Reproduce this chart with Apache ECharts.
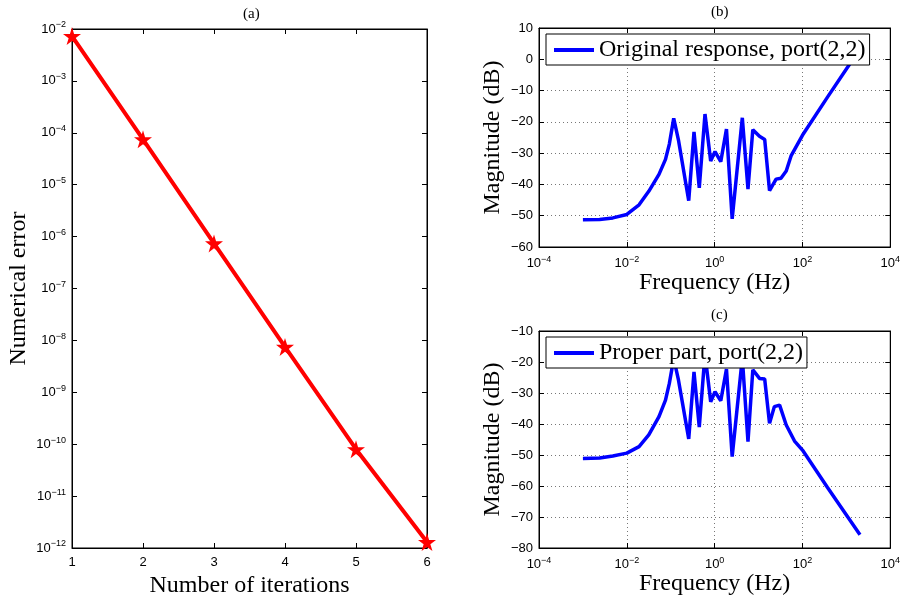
<!DOCTYPE html>
<html>
<head>
<meta charset="utf-8">
<script src="https://cdn.jsdelivr.net/npm/echarts@6/dist/echarts.min.js"></script>
<style>
    html, body { margin: 0; padding: 0; background: #fff; }
    .chart { width: 903px; height: 603px; }
</style>
</head>
<body>
<div class="chart"></div>
<script>
// (a) error per iteration
let iterations = [1, 2, 3, 4, 5, 6];
let errors = [7.3e-3, 7.5e-5, 7.4e-7, 7.5e-9, 8e-11, 1.3e-12];

// (b) original response
let freqB = [0.001, 0.0024, 0.0048, 0.01, 0.019, 0.0316, 0.054, 0.076, 0.093, 0.117, 0.15, 0.257, 0.339, 0.447, 0.603, 0.813, 1.02, 1.38, 1.86, 2.51, 4.27, 5.75, 7.41, 10.5, 13.8, 17.8, 25.1, 32.4, 42.7, 55, 100, 372, 1259];
let magB = [-51.3, -51.2, -50.7, -49.6, -46.5, -42.2, -36.8, -32, -27.1, -18.9, -25.8, -45.2, -23.2, -41.1, -17.5, -32.5, -29.5, -32.7, -22.3, -51, -18.7, -41.5, -22.5, -24.6, -25.6, -42, -38.3, -38, -35.7, -30.9, -24.3, -12.1, -1];

// (c) proper part
let freqC = [0.001, 0.0024, 0.0048, 0.01, 0.019, 0.0316, 0.054, 0.076, 0.093, 0.117, 0.15, 0.257, 0.339, 0.447, 0.603, 0.813, 1.02, 1.38, 1.86, 2.51, 4.27, 5.75, 7.41, 10.5, 13.8, 17.8, 22.9, 30.2, 42.7, 66, 100, 372, 2042];
let magC = [-51.1, -51, -50.3, -49.4, -47.3, -43.5, -37.6, -32.3, -26.9, -18.9, -25.8, -44.8, -23.2, -41, -17.5, -32.8, -29.6, -32.5, -22.3, -50.5, -18.7, -45.7, -22.5, -25.3, -25.5, -39.8, -34.4, -33.9, -40.3, -45.5, -48.4, -60.5, -75.7];

let nameB = 'Original response, port(2,2)';
let nameC = 'Proper part, port(2,2)';

let serif = 'Liberation Serif';
let sans = 'Liberation Sans';
let star = 'path://M50,0 L61,35 L98,35 L68,57 L79,91 L50,70 L21,91 L32,57 L2,35 L39,35 Z';

function pairs(xs, ys) {
    let out = [];
    for (let i = 0; i < xs.length; i++) out.push([xs[i], ys[i]]);
    return out;
}

function powLabel(v) {
    let e = Math.round(Math.log10(v));
    return '10{s|' + (e < 0 ? '\u2212' + (-e) : e) + '}';
}

function dbLabel(v) {
    return v < 0 ? '\u2212' + (-v) : '' + v;
}

let tickLabel = { color: '#000', fontFamily: sans, fontSize: 13, rich: { s: { fontSize: 9, fontFamily: sans, color: '#000', padding: [0, 0, 8, 0] } } };
let blackLine = { onZero: false, lineStyle: { color: '#000', width: 1 } };
let inTick = { inside: true, length: 5, lineStyle: { color: '#000' } };
let dotted = { show: true, lineStyle: { color: '#777', type: [1, 3], width: 1 } };

// primary + mirror axis, ticks pointing inward
function xAxes(grid, base, extra) {
    let main = Object.assign({ gridIndex: grid, position: 'bottom', axisLine: blackLine, axisTick: inTick, axisLabel: Object.assign({ margin: 8 }, tickLabel), splitLine: { show: false } }, base, extra);
    let mirror = Object.assign({ gridIndex: grid, position: 'top', axisLine: blackLine, axisTick: inTick, axisLabel: { show: false }, splitLine: { show: false } }, base);
    return [main, mirror];
}

function yAxes(grid, base, extra) {
    let main = Object.assign({ gridIndex: grid, position: 'left', axisLine: blackLine, axisTick: inTick, axisLabel: Object.assign({ margin: 6 }, tickLabel), splitLine: { show: false } }, base, extra);
    let mirror = Object.assign({ gridIndex: grid, position: 'right', axisLine: blackLine, axisTick: inTick, axisLabel: { show: false }, splitLine: { show: false } }, base);
    return [main, mirror];
}

let freqBase = { type: 'log', logBase: 10, min: 1e-4, max: 1e4, interval: 2 };
let nameX = { name: 'Frequency (Hz)', nameLocation: 'middle', nameGap: 21, nameTextStyle: { fontFamily: serif, fontSize: 24, color: '#000' }, splitLine: dotted, axisLabel: Object.assign({ margin: 8, formatter: powLabel }, tickLabel) };
let nameY = { name: 'Magnitude (dB)', nameLocation: 'middle', nameGap: 34, nameTextStyle: { fontFamily: serif, fontSize: 24, color: '#000' }, splitLine: dotted, axisLabel: Object.assign({ margin: 6, formatter: dbLabel }, tickLabel) };

let xs = [].concat(
    xAxes(0, { type: 'value', min: 1, max: 6, interval: 1 }, { name: 'Number of iterations', nameLocation: 'middle', nameGap: 21, nameTextStyle: { fontFamily: serif, fontSize: 24, color: '#000' } }),
    xAxes(1, freqBase, nameX),
    xAxes(2, freqBase, nameX)
);
let ys = [].concat(
    yAxes(0, { type: 'log', logBase: 10, min: 1e-12, max: 1e-2, interval: 1 }, { name: 'Numerical error', nameLocation: 'middle', nameGap: 41, nameTextStyle: { fontFamily: serif, fontSize: 24, color: '#000' }, axisLabel: Object.assign({ margin: 6, formatter: powLabel }, tickLabel) }),
    yAxes(1, { type: 'value', min: -60, max: 10, interval: 10 }, nameY),
    yAxes(2, { type: 'value', min: -80, max: -10, interval: 10 }, nameY)
);

let legendBase = { orient: 'horizontal', icon: 'rect', itemWidth: 40, itemHeight: 4, itemGap: 4, backgroundColor: '#fff', borderColor: '#000', borderWidth: 1, borderRadius: 0, padding: [4, 4, 3, 8], textStyle: { fontFamily: serif, fontSize: 24, color: '#000' } };

let option = {
    animation: false,
    backgroundColor: '#fff',
    title: [
        { text: '(a)', left: 238, top: 2, textStyle: { fontFamily: serif, fontSize: 15, fontWeight: 'normal', color: '#000' } },
        { text: '(b)', left: 706, top: 0, textStyle: { fontFamily: serif, fontSize: 15, fontWeight: 'normal', color: '#000' } },
        { text: '(c)', left: 706, top: 303, textStyle: { fontFamily: serif, fontSize: 15, fontWeight: 'normal', color: '#000' } }
    ],
    grid: [
        { left: 72, top: 29, width: 355, height: 519, show: true, borderColor: '#000', borderWidth: 1 },
        { left: 539, top: 28, width: 355, height: 219, show: true, borderColor: '#000', borderWidth: 1 },
        { left: 539, top: 331, width: 355, height: 217, show: true, borderColor: '#000', borderWidth: 1 }
    ],
    legend: [
        Object.assign({ data: [nameB], left: 546, top: 34 }, legendBase),
        Object.assign({ data: [nameC], left: 546, top: 337 }, legendBase)
    ],
    xAxis: xs,
    yAxis: ys,
    series: [
        {
            type: 'line', xAxisIndex: 0, yAxisIndex: 0,
            data: pairs(iterations, errors),
            symbol: star, symbolSize: 18,
            itemStyle: { color: '#ff0000' },
            lineStyle: { color: '#ff0000', width: 4 }
        },
        {
            name: nameB, type: 'line', xAxisIndex: 2, yAxisIndex: 2,
            data: pairs(freqB, magB), showSymbol: false, symbol: 'none',
            itemStyle: { color: '#0000ff' },
            lineStyle: { color: '#0000ff', width: 3.5 }
        },
        {
            name: nameC, type: 'line', xAxisIndex: 4, yAxisIndex: 4,
            data: pairs(freqC, magC), showSymbol: false, symbol: 'none',
            itemStyle: { color: '#0000ff' },
            lineStyle: { color: '#0000ff', width: 3.5 }
        }
    ]
};

let MyChart = echarts.init(document.querySelector('.chart'), null, { renderer: 'canvas' });
MyChart.setOption(option);
</script>
</body>
</html>
